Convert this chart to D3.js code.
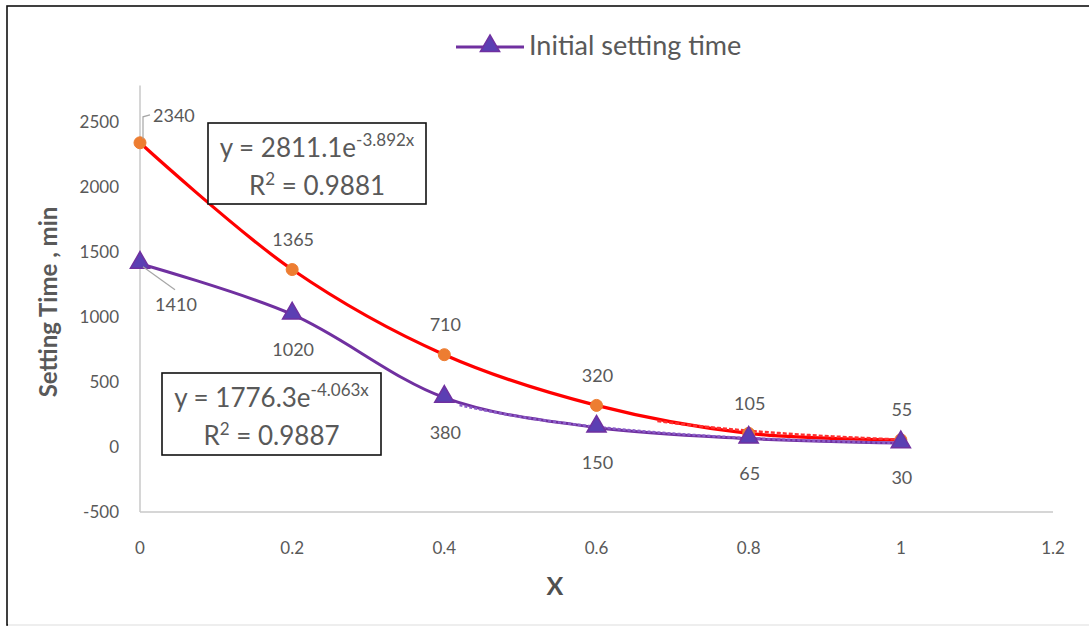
<!DOCTYPE html>
<html>
<head>
<meta charset="utf-8">
<script src="https://cdn.jsdelivr.net/npm/d3@7"></script>
<style>
  html, body { margin: 0; padding: 0; background: #fff; }
  svg { display: block; font-family: Lato, "Open Sans", sans-serif; }
</style>
</head>
<body>
<svg id="chart" width="1089" height="633"></svg>
<script>
// ---- data ----
const xValues = [0, 0.2, 0.4, 0.6, 0.8, 1];
const finalSetting = [2340, 1365, 710, 320, 105, 55];
const initialSetting = [1410, 1020, 380, 150, 65, 30];
const xTicks = [0, 0.2, 0.4, 0.6, 0.8, 1, 1.2];
const yTicks = [-500, 0, 500, 1000, 1500, 2000, 2500];
const legendLabels = ["Initial setting time"];
const fitFinal = { a: 2811.1, b: -3.892, r2: "0.9881", from: 0.68 };
const fitInitial = { a: 1776.3, b: -4.063, r2: "0.9887", from: 0.42 };
const xTitle = "X";
const yTitle = "Setting Time , min";

const svg = d3.select("#chart");
const W = 1089, H = 633;

// frame
svg.append("rect").attr("x", 7).attr("y", 6).attr("width", W + 20).attr("height", 619)
  .attr("fill", "none").attr("stroke", "#111").attr("stroke-width", 1.6);
svg.append("line").attr("x1", 8).attr("x2", W).attr("y1", 625).attr("y2", 625)
  .attr("stroke", "#eee").attr("stroke-width", 2);

const x = d3.scaleLinear().domain([0, 1.2]).range([140, 1053]);
const y = d3.scaleLinear().domain([-500, 2500]).range([512, 122]);

const textColor = "#595959";
const axisColor = "#c8c8c8";

// axes lines
svg.append("line").attr("x1", x(0)).attr("x2", x(1.2)).attr("y1", y(-500)).attr("y2", y(-500))
  .attr("stroke", axisColor).attr("stroke-width", 1.5);
svg.append("line").attr("x1", x(0)).attr("x2", x(0)).attr("y1", y(-500)).attr("y2", y(2780))
  .attr("stroke", axisColor).attr("stroke-width", 1.5);

// tick labels
svg.selectAll(".ytick").data(yTicks).join("text")
  .attr("x", 119).attr("y", d => y(d)).attr("dy", "0.35em")
  .attr("text-anchor", "end").attr("font-size", 17).attr("fill", textColor)
  .text(d => d);
svg.selectAll(".xtick").data(xTicks).join("text")
  .attr("x", d => x(d)).attr("y", 548).attr("dy", "0.35em")
  .attr("text-anchor", "middle").attr("font-size", 17).attr("fill", textColor)
  .text(d => d);

// axis titles
svg.append("text").attr("x", 555).attr("y", 586).attr("dy", "0.35em")
  .attr("text-anchor", "middle").attr("font-size", 25).attr("font-weight", "bold")
  .attr("fill", "#505050").text(xTitle);
svg.append("text").attr("transform", "translate(49,302) rotate(-90)")
  .attr("dy", "0.35em").attr("text-anchor", "middle").attr("font-size", 24)
  .attr("font-weight", "bold").attr("fill", textColor).text(yTitle);

// lines
const line = d3.line().x(d => x(d[0])).y(d => y(d[1])).curve(d3.curveCatmullRom.alpha(0.5));
const redPts = xValues.map((v, i) => [v, finalSetting[i]]);
const purplePts = xValues.map((v, i) => [v, initialSetting[i]]);

svg.append("path").attr("d", line(redPts)).attr("fill", "none")
  .attr("stroke", "#ff0000").attr("stroke-width", 3.2);
svg.append("path").attr("d", line(purplePts)).attr("fill", "none")
  .attr("stroke", "#7030a0").attr("stroke-width", 3);

// trendlines (exponential fits)
function trend(fit) {
  return d3.range(fit.from, 1.0001, 0.01).map(t => [t, fit.a * Math.exp(fit.b * t)]);
}
const tline = d3.line().x(d => x(d[0])).y(d => y(d[1]));
svg.append("path").attr("d", tline(trend(fitFinal))).attr("fill", "none")
  .attr("stroke", "#ff3030").attr("stroke-width", 2.5).attr("stroke-dasharray", "4,2");
svg.append("path").attr("d", tline(trend(fitInitial))).attr("fill", "none")
  .attr("stroke", "#8a5cc8").attr("stroke-width", 2.5).attr("stroke-dasharray", "3,2");

// markers
svg.selectAll(".dotR").data(redPts).join("circle")
  .attr("cx", d => x(d[0])).attr("cy", d => y(d[1])).attr("r", 6)
  .attr("fill", "#ed7d31").attr("stroke", "#ed7d31");
const tri = d3.symbol().type(d3.symbolTriangle).size(160);
svg.selectAll(".triP").data(purplePts).join("path")
  .attr("d", tri).attr("transform", d => `translate(${x(d[0])},${y(d[1]) - 1})`)
  .attr("fill", "#5b3fb3").attr("stroke", "#7030a0").attr("stroke-width", 1.5);

// leader lines for first points
const p0r = [x(0), y(finalSetting[0])];
svg.append("polyline")
  .attr("points", `${p0r[0] + 3},${p0r[1] - 4} ${p0r[0] + 3},${p0r[1] - 26} ${p0r[0] + 10},${p0r[1] - 28}`)
  .attr("fill", "none").attr("stroke", "#a6a6a6").attr("stroke-width", 1.2);
const p0p = [x(0), y(initialSetting[0])];
svg.append("line").attr("x1", p0p[0] + 3).attr("y1", p0p[1] + 3)
  .attr("x2", p0p[0] + 35).attr("y2", p0p[1] + 26)
  .attr("stroke", "#a6a6a6").attr("stroke-width", 1.2);

// data labels
svg.selectAll(".lblR").data(redPts).join("text")
  .attr("x", (d, i) => i === 0 ? x(d[0]) + 13 : x(d[0]) + 1)
  .attr("y", (d, i) => i === 0 ? y(d[1]) - 27 : y(d[1]) - 30)
  .attr("dy", "0.35em").attr("text-anchor", (d, i) => i === 0 ? "start" : "middle")
  .attr("font-size", 18).attr("fill", textColor).text(d => d[1]);
svg.selectAll(".lblP").data(purplePts).join("text")
  .attr("x", (d, i) => i === 0 ? x(d[0]) + 36 : x(d[0]) + 1)
  .attr("y", (d, i) => i === 0 ? y(d[1]) + 41 : y(d[1]) + 35)
  .attr("dy", "0.35em").attr("text-anchor", "middle")
  .attr("font-size", 18).attr("fill", textColor).text(d => d[1]);

// equation boxes
function eqBox(fit, bx, by, bw, bh) {
  const g = svg.append("g");
  g.append("rect").attr("x", bx).attr("y", by).attr("width", bw).attr("height", bh)
    .attr("fill", "#fff").attr("stroke", "#111").attr("stroke-width", 1.6);
  const t1 = g.append("text").attr("x", bx + bw / 2).attr("y", by + 34)
    .attr("text-anchor", "middle").attr("font-size", 26).attr("fill", textColor);
  t1.append("tspan").text(`y = ${fit.a.toFixed(1)}e`);
  t1.append("tspan").attr("dy", -11).attr("font-size", 17).text(`${fit.b.toFixed(3)}x`);
  const t2 = g.append("text").attr("x", bx + bw / 2).attr("y", by + 72)
    .attr("text-anchor", "middle").attr("font-size", 26).attr("fill", textColor);
  t2.append("tspan").text("R");
  t2.append("tspan").attr("dy", -10).attr("font-size", 17).text("2");
  t2.append("tspan").attr("dy", 10).text(` = ${fit.r2}`);
}
eqBox(fitFinal, 208, 123, 218, 81);
eqBox(fitInitial, 162, 373, 219, 82);

// legend
const lg = svg.append("g");
lg.append("line").attr("x1", 456).attr("x2", 524).attr("y1", 47).attr("y2", 47)
  .attr("stroke", "#7030a0").attr("stroke-width", 3);
lg.append("path").attr("d", tri).attr("transform", "translate(490,46)")
  .attr("fill", "#5b3fb3").attr("stroke", "#7030a0").attr("stroke-width", 1.5);
lg.selectAll("text").data(legendLabels).join("text")
  .attr("x", 529).attr("y", 46).attr("dy", "0.35em")
  .attr("font-size", 27).attr("fill", textColor).text(d => d);
</script>
</body>
</html>
